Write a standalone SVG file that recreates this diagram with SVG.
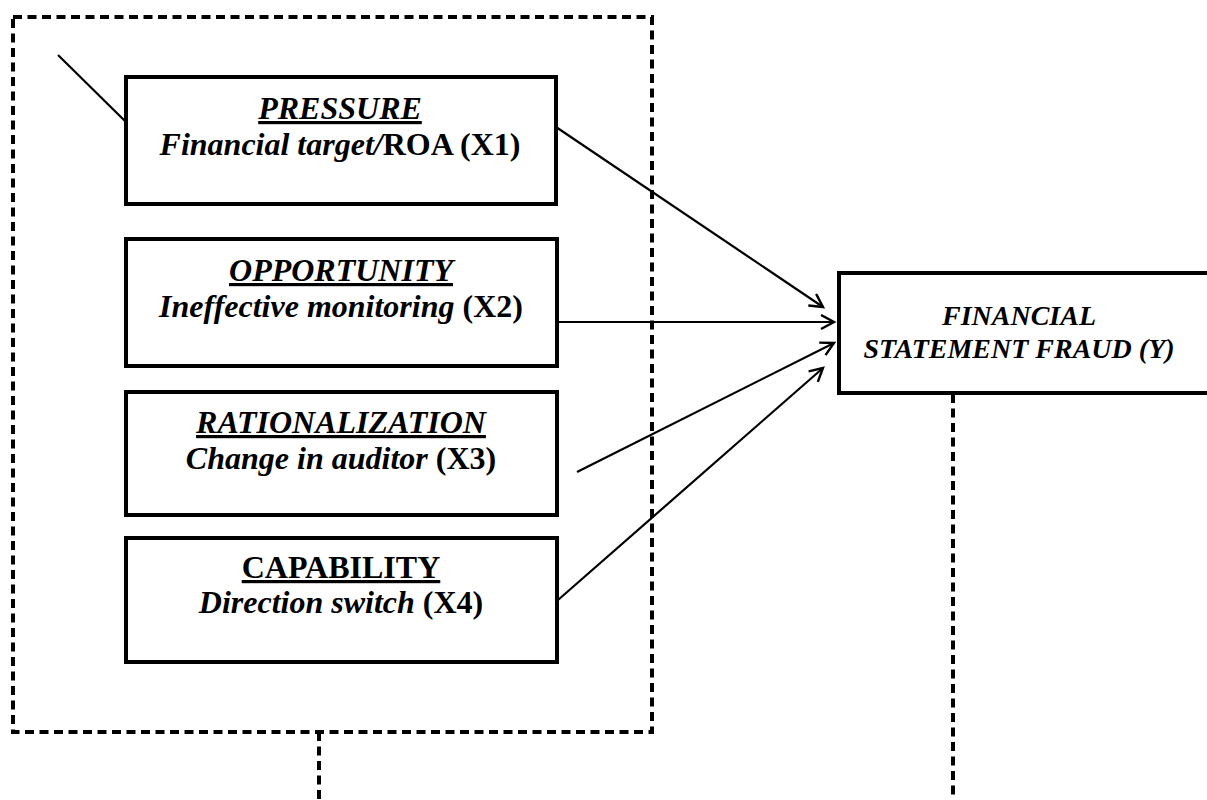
<svg xmlns="http://www.w3.org/2000/svg" width="1207" height="800" viewBox="0 0 1207 800">
<style>
.box{fill:#fff;stroke:#000;stroke-width:4}
.dash{fill:none;stroke:#000;stroke-width:4;stroke-dasharray:9,5.5}
.con{fill:none;stroke:#000;stroke-width:2.2}
text{font-family:"Liberation Serif","Times New Roman",serif;font-size:32px;font-weight:bold;text-anchor:middle;fill:#000}
.i{font-style:italic}
.u{text-decoration:underline}
.t{font-size:28px;font-style:italic}
</style>
<defs>
<marker id="arr" markerWidth="20" markerHeight="20" refX="16" refY="8" orient="auto" markerUnits="userSpaceOnUse">
<path d="M3,1 L16,8 L3,15" fill="none" stroke="#000" stroke-width="2.4"/>
</marker>
</defs>
<g id="frame">
<rect class="dash" x="13" y="17" width="639" height="715"/>
<line class="dash" x1="319" y1="732" x2="319" y2="800"/>
<line class="dash" x1="953" y1="394" x2="953" y2="800"/>
</g>
<g id="connectors">
<line class="con" x1="58" y1="55" x2="126" y2="122"/>
<line class="con" x1="556" y1="127" x2="823" y2="307" marker-end="url(#arr)"/>
<line class="con" x1="558" y1="322" x2="834" y2="322" marker-end="url(#arr)"/>
<line class="con" x1="577" y1="472" x2="834" y2="343" marker-end="url(#arr)"/>
<line class="con" x1="558" y1="600" x2="823" y2="368" marker-end="url(#arr)"/>
</g>
<g id="pressure">
<rect class="box" x="126" y="77" width="430" height="127"/>
<text x="340" y="119" class="i u">PRESSURE</text>
<text x="340" y="155"><tspan class="i">Financial target/</tspan>ROA (X1)</text>
</g>
<g id="opportunity">
<rect class="box" x="126" y="239" width="431" height="127"/>
<text x="341" y="281" class="i u">OPPORTUNITY</text>
<text x="341" y="317"><tspan class="i">Ineffective monitoring </tspan>(X2)</text>
</g>
<g id="rationalization">
<rect class="box" x="126" y="392" width="431" height="123"/>
<text x="341" y="433" class="i u">RATIONALIZATION</text>
<text x="341" y="469"><tspan class="i">Change in auditor </tspan>(X3)</text>
</g>
<g id="capability">
<rect class="box" x="126" y="538" width="431" height="124"/>
<text x="341" y="578" class="u">CAPABILITY</text>
<text x="341" y="613"><tspan class="i">Direction switch </tspan>(X4)</text>
</g>
<g id="fraud">
<rect class="box" x="839" y="273" width="380" height="120"/>
<text x="1019" y="325" class="t">FINANCIAL</text>
<text x="1019" y="358" class="t">STATEMENT FRAUD (Y)</text>
</g>
</svg>
